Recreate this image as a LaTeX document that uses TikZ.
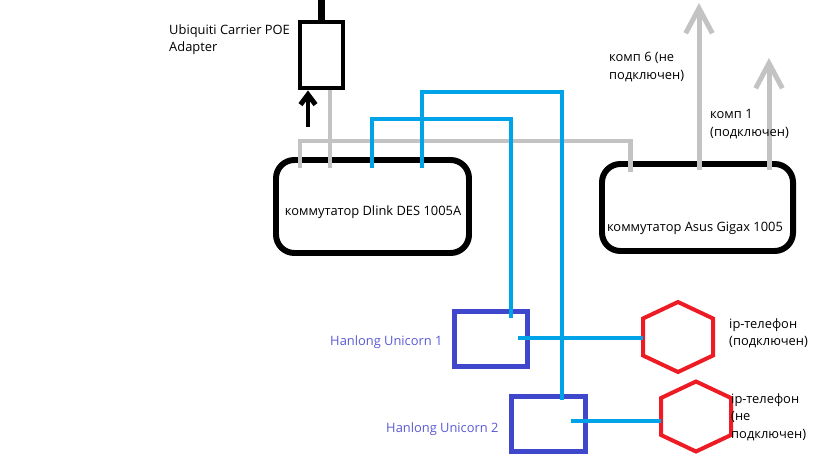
\documentclass[tikz,border=0pt]{standalone}
\usepackage{fontspec}
\setmainfont{Open Sans}
\usetikzlibrary{arrows.meta}
\definecolor{cabgris}{RGB}{195,195,195}
\definecolor{cabazul}{RGB}{0,162,232}
\definecolor{cajavio}{RGB}{63,72,204}
\definecolor{telrojo}{RGB}{237,28,36}
\definecolor{textvio}{RGB}{90,90,215}
\tikzset{
  telefon/.pic={
    \draw[telrojo,line width=3.4pt] (0,-35) -- (35,-18.5) -- (35,18.5) -- (0,35) -- (-35,18.5) -- (-35,-18.5) -- cycle;
    \coordinate (-w) at (-35,0);
  }
}
\begin{document}
\begin{tikzpicture}[x=0.03cm, y=-0.03cm, font=\fontsize{11}{15.3}\selectfont,
    switch/.style={draw, line width=5.1pt, rounded corners=0.55cm, inner sep=0},
    hanlong/.style={draw=cajavio, line width=4.25pt, minimum width=2.19cm, minimum height=1.65cm, inner sep=0},
    gris/.style={cabgris, line width=4.25pt},
    azul/.style={cabazul, line width=3.4pt},
    lbl/.style={align=left, anchor=north west, inner sep=0}]
    \useasboundingbox (0,0) rectangle (819,460);
    % equipos
    \node[draw, line width=4.25pt, minimum width=1.29cm, minimum height=1.98cm, inner sep=0] (poe) at (321.5,55) {};
    \node[switch, minimum width=5.79cm, minimum height=2.79cm] (dlink) at (372.5,206.5) {};
    \node[switch, minimum width=5.73cm, minimum height=2.61cm] (asus) at (697.5,207.5) {};
    \node[hanlong] (hl1) at (491,339) {};
    \node[hanlong, minimum width=2.22cm] (hl2) at (548.5,424) {};
    \pic (tel1) at (678,337) {telefon};
    \pic (tel2) at (696,416.5) {telefon};
    % puertos
    \coordinate (dp1) at (300,168);
    \coordinate (dp2) at (330,168);
    \coordinate (dp3) at (372,168);
    \coordinate (dp4) at (422,168);
    \coordinate (ap1) at (630,172);
    \coordinate (ap2) at (699,170);
    \coordinate (ap3) at (769,170);
    \coordinate (gk) at (630,141);
    \coordinate (bk1) at (511,119);
    \coordinate (bk2) at (562,92);
    \coordinate (hp1) at (511,318);
    \coordinate (hp2) at (562,400);
    \coordinate (hw1) at (518,338);
    \coordinate (hw2) at (571,421);
    \coordinate (k6) at (699,3);
    \coordinate (k1) at (769,58);
    \coordinate (pa) at (308,127);
    \coordinate (up) at (321.5,0);
    % cables
    \draw[line width=6.8pt] (poe.north) -- (up);
    \draw[line width=4.25pt, -{Straight Barb[length=0.3cm,width=0.45cm]}] (pa) -- (pa |- poe.south);
    \draw[gris] (dp1) |- (gk) -- (ap1);
    \draw[gris] (dp2) -- (dp2 |- poe.south);
    \draw[azul] (dp3) |- (bk1) -- (hp1);
    \draw[azul] (dp4) |- (bk2) -- (hp2);
    \draw[azul] (hw1) -- (hw1 -| tel1-w);
    \draw[azul] (hw2) -- (hw2 -| tel2-w);
    \draw[gris, -{Straight Barb[length=0.75cm,width=0.8cm]}] (ap2) -- (k6);
    \draw[gris, -{Straight Barb[length=0.75cm,width=0.8cm]}] (ap3) -- (k1);
    % textos
    \node[lbl] (tpoe) at (169,24) {Ubiquiti Carrier POE\\Adapter};
    \node (tdlink) at (373,212) {коммутатор Dlink DES 1005A};
    \node (tasus) at (695,228) {коммутатор Asus Gigax 1005};
    \node[lbl] (tk6) at (609,52) {комп 6 (не\\подключен)};
    \node[lbl] (tk1) at (710,109) {комп 1\\(подключен)};
    \node[anchor=west, inner sep=0, textvio] (thl1) at (330,342) {Hanlong Unicorn 1};
    \node[anchor=west, inner sep=0, textvio] (thl2) at (386,429) {Hanlong Unicorn 2};
    \node[lbl] (ttel1) at (729,318) {ip-телефон\\(подключен)};
    \node[lbl] (ttel2) at (731,393) {ip-телефон\\(не\\подключен)};
\end{tikzpicture}
\end{document}
